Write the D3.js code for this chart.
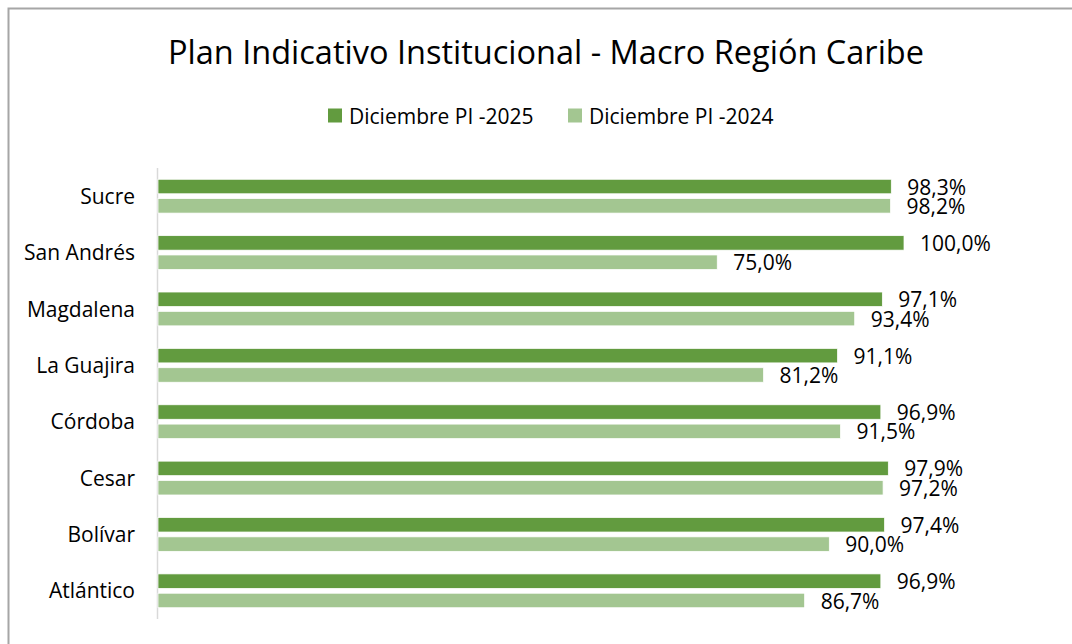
<!DOCTYPE html>
<html>
<head>
<meta charset="utf-8">
<script src="https://cdn.jsdelivr.net/npm/d3@7"></script>
<style>
    body { margin: 0; background: #fff; }
    svg { display: block; font-family: "Open Sans", Lato, sans-serif; }
</style>
</head>
<body>
<svg id="grafico" width="1072" height="644"></svg>
<script>

const departamentos = ["Sucre", "San Andrés", "Magdalena", "La Guajira", "Córdoba", "Cesar", "Bolívar", "Atlántico"];

const series = ["Diciembre PI -2025", "Diciembre PI -2024"];

const pi2025 = [98.3, 100.0, 97.1, 91.1, 96.9, 97.9, 97.4, 96.9];

const pi2024 = [98.2, 75.0, 93.4, 81.2, 91.5, 97.2, 90.0, 86.7];

const colores = ["#629B3F", "#A3C691"];

dibujarGrafico();

function dibujarGrafico() {

    const svg = d3.select("#grafico");

    const width = 1072;
    const height = 644;

    const margin = {
        top: 168,
        right: 168,
        bottom: 25,
        left: 157
    };

    // marco del gráfico (solo arriba e izquierda se ven)
    svg.append("path")
        .attr("d", `M8.5,${height} V8.5 H${width}`)
        .attr("fill", "none")
        .attr("stroke", "#A6A6A6")
        .attr("stroke-width", 2);

    svg.append("text")
        .attr("x", 546)
        .attr("y", 64)
        .attr("text-anchor", "middle")
        .style("font-size", "32.5px")
        .style("fill", "#000")
        .text("Plan Indicativo Institucional - Macro Región Caribe");

    const x = d3.scaleLinear()
        .domain([0, 100])
        .range([margin.left, 904]);

    const y = d3.scaleBand()
        .domain(departamentos)
        .range([margin.top, height - margin.bottom])
        .paddingInner(0.4)
        .paddingOuter(0.2);

    const ySerie = d3.scaleBand()
        .domain(series)
        .range([0, y.bandwidth()])
        .paddingInner(0.25);

    const datos = departamentos.map((d, i) => ({
        departamento: d,
        valores: [
            { serie: series[0], valor: pi2025[i], color: colores[0] },
            { serie: series[1], valor: pi2024[i], color: colores[1] }
        ]
    }));

    // eje vertical con las categorías
    const ejeY = svg.append("g")
        .attr("transform", `translate(${margin.left},0)`)
        .call(d3.axisLeft(y).tickSize(0).tickPadding(22));

    ejeY.select(".domain")
        .attr("d", `M0.5,${margin.top} V${height - margin.bottom}`)
        .attr("stroke", "#D9D9D9")
        .attr("stroke-width", 1.5);

    ejeY.selectAll("text")
        .style("font-family", "'Open Sans', Lato, sans-serif")
        .style("font-size", "21px")
        .style("fill", "#000")
        .attr("dy", "0.36em");

    const grupos = svg.selectAll(".grupo")
        .data(datos)
        .enter()
        .append("g")
        .attr("class", "grupo")
        .attr("transform", d => `translate(0,${y(d.departamento)})`);

    grupos.selectAll("rect")
        .data(d => d.valores)
        .enter()
        .append("rect")
        .attr("x", x(0) + 1)
        .attr("y", d => ySerie(d.serie))
        .attr("width", d => x(d.valor) - x(0) - 1)
        .attr("height", ySerie.bandwidth())
        .attr("fill", d => d.color)
        .attr("stroke", "#fff")
        .attr("stroke-width", 0.75);

    grupos.selectAll(".etiqueta")
        .data(d => d.valores)
        .enter()
        .append("text")
        .attr("class", "etiqueta")
        .attr("x", d => x(d.valor) + 16)
        .attr("y", d => ySerie(d.serie) + ySerie.bandwidth() / 2 + 0.5)
        .attr("dy", "0.36em")
        .style("font-size", "21px")
        .style("fill", "#000")
        .text(d => d.valor.toFixed(1).replace(".", ",") + "%");

    // leyenda
    const leyenda = [
        { nombre: series[0], color: colores[0], x: 328 },
        { nombre: series[1], color: colores[1], x: 568 }
    ];

    leyenda.forEach(item => {

        svg.append("rect")
            .attr("x", item.x)
            .attr("y", 108.5)
            .attr("width", 14)
            .attr("height", 14)
            .attr("fill", item.color);

        svg.append("text")
            .attr("x", item.x + 21)
            .attr("y", 116)
            .attr("dy", "0.36em")
            .style("font-size", "21px")
            .style("fill", "#000")
            .text(item.nombre);

    });

}
</script>
</body>
</html>
